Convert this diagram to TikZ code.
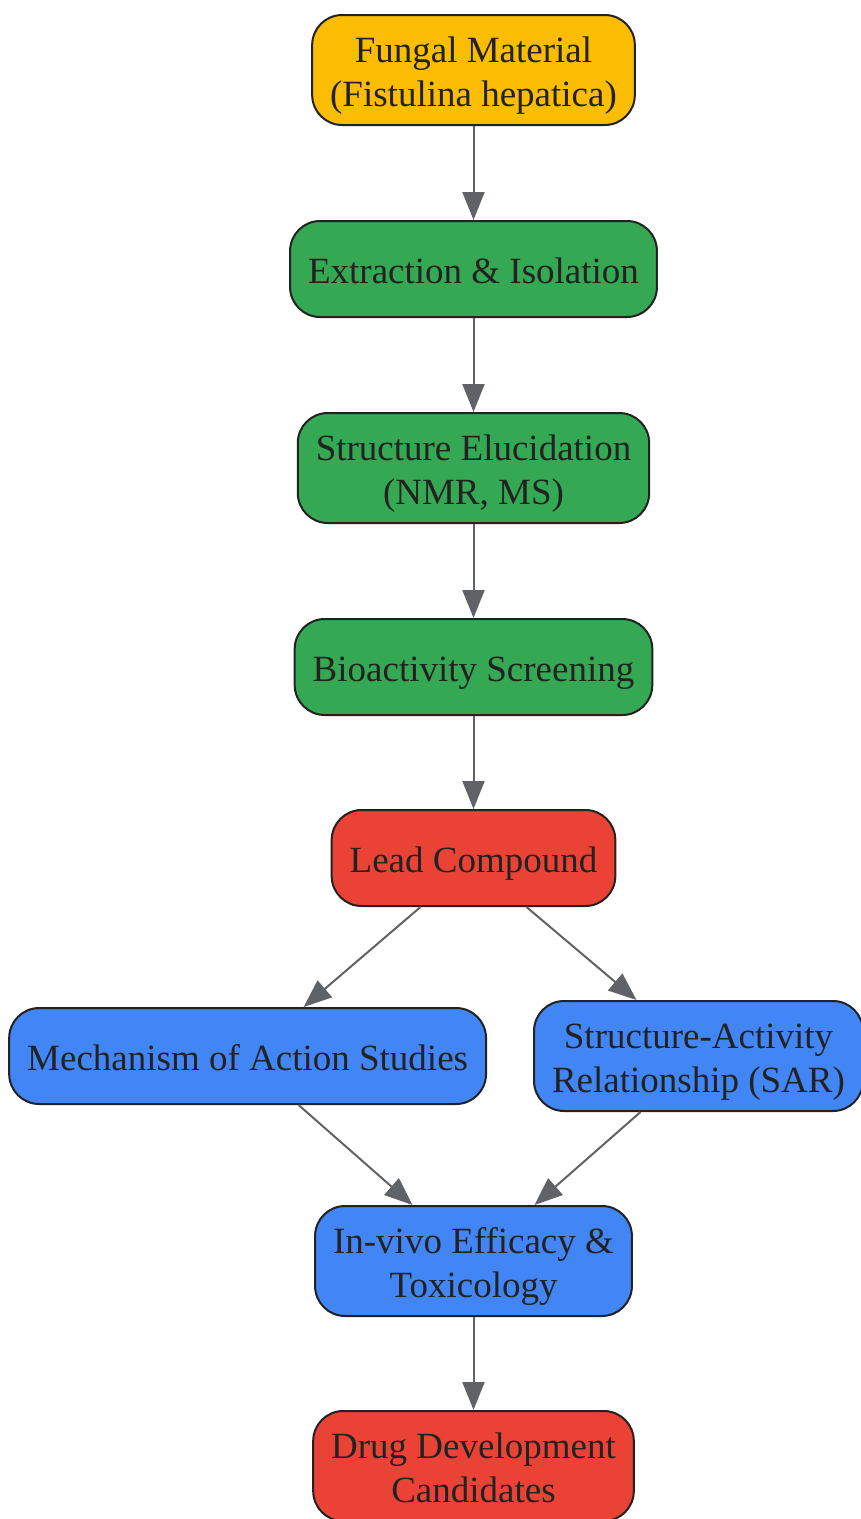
\documentclass[tikz,border=0pt]{standalone}
\usepackage{fontspec}
\setmainfont{Liberation Serif}
\usetikzlibrary{positioning}
\usetikzlibrary{arrows.meta}

\definecolor{fungusyellow}{HTML}{FBBC04}
\definecolor{stagegreen}{HTML}{34A853}
\definecolor{leadred}{HTML}{EA4335}
\definecolor{studyblue}{HTML}{4285F4}
\definecolor{edgegray}{HTML}{5F6368}
\definecolor{inkdark}{HTML}{222222}

\begin{document}
\begin{tikzpicture}[x=1pt, y=1pt,
  every node/.style={draw=inkdark, text=inkdark, line width=2pt, rounded corners=30pt,
    inner xsep=18pt, inner ysep=0pt, align=center, text depth=8pt,
    font=\fontsize{37}{44}\selectfont},
  oneline/.style={minimum height=96pt, text height=36pt},
  twoline/.style={minimum height=110pt, text height=80pt},
  flow/.style={draw=edgegray, line width=2pt, -{Triangle[length=28pt, width=22pt]}}]
  \useasboundingbox (0,0) rectangle (861,-1519);
  \node[twoline, fill=fungusyellow] at (473.5,-70) (fungal)
    {Fungal Material\\(Fistulina hepatica)};
  \node[oneline, fill=stagegreen, below=94pt of fungal] (extract)
    {Extraction \& Isolation};
  \node[twoline, fill=stagegreen, below=94pt of extract] (elucid)
    {Structure Elucidation\\(NMR, MS)};
  \node[oneline, fill=stagegreen, below=94pt of elucid] (screen)
    {Bioactivity Screening};
  \node[oneline, fill=leadred, below=93pt of screen] (lead)
    {Lead Compound};
  \node[twoline, fill=studyblue, below=93pt of lead, xshift=225pt] (sar)
    {Structure-Activity\\Relationship (SAR)};
  \node[oneline, fill=studyblue, left=46pt of sar] (mech)
    {Mechanism of Action Studies};
  \coordinate (below sar) at (lead |- sar.south);
  \node[twoline, fill=studyblue, below=93pt of below sar] (invivo)
    {In-vivo Efficacy \&\\Toxicology};
  \node[twoline, fill=leadred, below=93pt of invivo] (drug)
    {Drug Development\\Candidates};

  \draw[flow] (fungal) -- (extract);
  \draw[flow] (extract) -- (elucid);
  \draw[flow] (elucid) -- (screen);
  \draw[flow] (screen) -- (lead);
  \draw[flow] ([xshift=-53pt]lead.south) -- ([xshift=56pt]mech.north);
  \draw[flow] ([xshift=53pt]lead.south) -- ([xshift=-62pt]sar.north);
  \draw[flow] ([xshift=51pt]mech.south) -- ([xshift=-61pt]invivo.north);
  \draw[flow] ([xshift=-58pt]sar.south) -- ([xshift=61pt]invivo.north);
  \draw[flow] (invivo) -- (drug);
\end{tikzpicture}
\end{document}
